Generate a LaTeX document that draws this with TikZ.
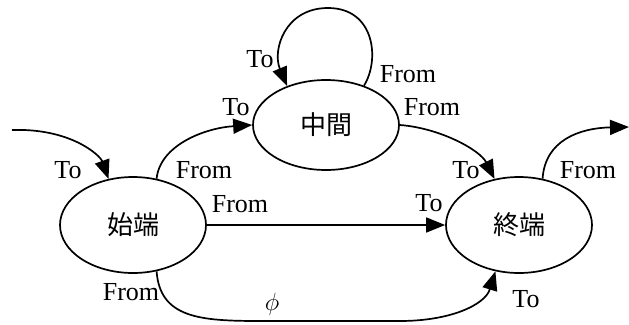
\documentclass[tikz,border=0pt]{standalone}
\usepackage{fontspec}
\setmainfont{Liberation Serif}
\newfontfamily\cjk{Noto Sans CJK JP}
\usetikzlibrary{shapes.geometric,arrows.meta}
\begin{document}
\begin{tikzpicture}[x=1pt,y=-1pt,
  state/.style={draw,line width=1.7pt,ellipse,minimum width=146pt,minimum height=96pt,inner sep=0pt,font=\cjk\fontsize{26}{30}\selectfont},
  conn/.style={line width=1.7pt,-{Triangle[length=19pt,width=15pt]}},
  lbl/.style={font=\fontsize{26}{30}\selectfont,inner sep=0pt}]
\useasboundingbox (0,0) rectangle (629,324);
\node[state] (s) at (133,225) {始端};
\node[state, minimum height=90pt] (m) at (326,125) {中間};
\node[state] (e) at (519,225) {終端};
\coordinate (in) at (12,130);
\coordinate (out) at (629,127);
\coordinate (lt) at (328,8);
\draw[conn] (in) .. controls (70,128) and (100,155) .. (s.118);
\draw[conn] (s.63) .. controls (160,145) and (205,128) .. (m.180);
\draw[conn] (m.46) .. controls (380,60) and (375,8) .. (lt) .. controls (285,8) and (272,50) .. (m.135);
\draw[conn] (m.0) .. controls (440,128) and (480,150) .. (e.118);
\draw[conn] (s.0) -- (e.180);
\draw[conn] (s.-63) .. controls (160,318) and (200,321) .. (260,321) -- (400,321) .. controls (450,321) and (485,305) .. (e.-117);
\draw[conn] (e.63) .. controls (545,140) and (580,128) .. (out);
\node[lbl] (l1) at (68,170) {To};
\node[lbl] (l2) at (204,170) {From};
\node[lbl] (l3) at (236,107) {To};
\node[lbl] (l4) at (260,59) {To};
\node[lbl] (l5) at (408,74) {From};
\node[lbl] (l6) at (432,107) {From};
\node[lbl] (l7) at (466,170) {To};
\node[lbl] (l8) at (588,170) {From};
\node[lbl] (l9) at (240,204) {From};
\node[lbl] (l10) at (429,203) {To};
\node[lbl] (l11) at (131,292) {From};
\node[lbl] (l12) at (272,304) {$\phi$};
\node[lbl] (l13) at (526,299) {To};
\end{tikzpicture}
\end{document}
